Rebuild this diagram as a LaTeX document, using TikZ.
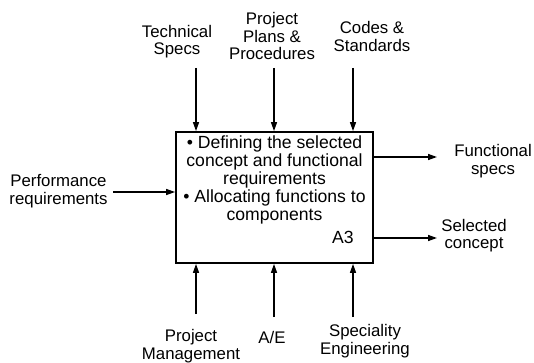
\documentclass[tikz,border=0pt]{standalone}
\usepackage{fontspec}
\setmainfont{Liberation Sans}
\usetikzlibrary{arrows.meta}
\begin{document}
\begin{tikzpicture}[x=1pt,y=-1pt,
 lbl/.style={align=center,font=\fontsize{16.8}{17.5}\selectfont,inner sep=0pt},
 boxtext/.style={align=center,font=\fontsize{17.6}{18}\selectfont,inner sep=0pt},
 arr/.style={line width=1.4pt,-{Triangle[length=9pt,width=6pt]}},
 proc/.style={draw,line width=1.8pt,minimum width=197pt,minimum height=131pt,inner sep=0pt}]
\useasboundingbox (0,0) rectangle (534,363);
\node[proc] (box) at (274.5,197.5) {};
\node[boxtext] (txt) at (274.5,180) {\textbullet{} Defining the selected\\concept and functional\\requirements\\\textbullet{} Allocating functions to\\components};
\node[boxtext] (a3) at (343,237) {A3};
% top controls
\node[lbl] (ts) at (177,41.5) {Technical\\Specs};
\node[lbl] (pp) at (272,36) {Project\\Plans \&\\Procedures};
\node[lbl] (cs) at (372,36.5) {Codes \&\\Standards};
\coordinate (t1) at (196,68);
\coordinate (t2) at (274,68);
\coordinate (t3) at (353,68);
\draw[arr] (t1) -- (t1 |- box.north);
\draw[arr] (t2) -- (t2 |- box.north);
\draw[arr] (t3) -- (t3 |- box.north);
% input
\node[lbl] (pr) at (58.5,191) {Performance\\requirements};
\coordinate (in) at (113,192);
\draw[arr] (in) -- (in -| box.west);
% outputs
\node[lbl] (fs) at (493,161) {Functional\\specs};
\node[lbl] (sc) at (474,235.5) {Selected\\concept};
\coordinate (o1) at (437,157);
\coordinate (o2) at (437,238);
\draw[arr] (o1 -| box.east) -- (o1);
\draw[arr] (o2 -| box.east) -- (o2);
% mechanisms
\node[lbl] (pm) at (191,346) {Project\\Management};
\node[lbl] (ae) at (272,337) {A/E};
\node[lbl] (se) at (365,341) {Speciality\\Engineering};
\coordinate (b1) at (196,314);
\coordinate (b2) at (274,317);
\coordinate (b3) at (353,317);
\draw[arr] (b1) -- (b1 |- box.south);
\draw[arr] (b2) -- (b2 |- box.south);
\draw[arr] (b3) -- (b3 |- box.south);
\end{tikzpicture}
\end{document}
